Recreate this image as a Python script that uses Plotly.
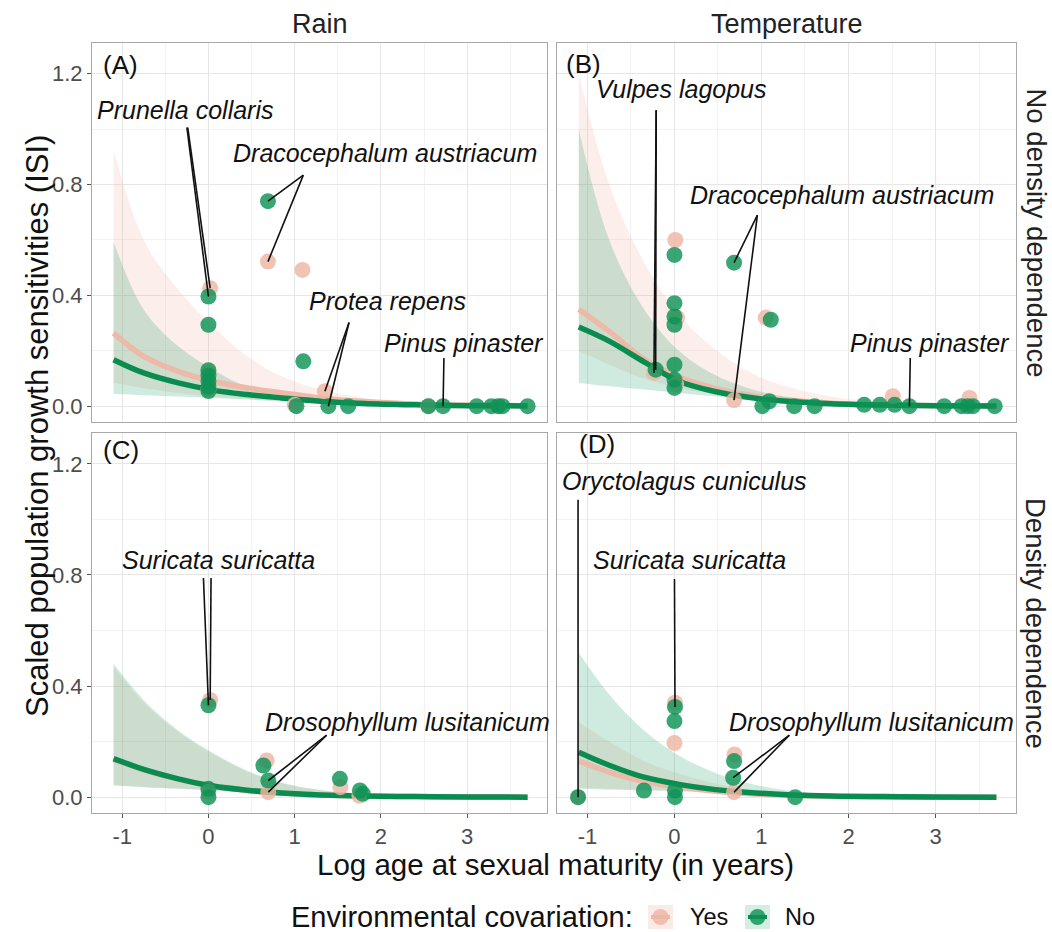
import plotly.graph_objects as go

W, H = 1052, 932
FONT = "Liberation Sans, Arial, Helvetica, sans-serif"

# ---------------- data ----------------
PANELS = ["A", "B", "C", "D"]
COL_TITLES = ["Rain", "Temperature"]
ROW_TITLES = ["No density dependence", "Density dependence"]
LEGEND_TITLE = "Environmental covariation:"
SERIES_NAMES = ["Yes", "No"]

X_TICKS = [-1, 0, 1, 2, 3]
X_TICK_LABELS = ["-1", "0", "1", "2", "3"]
Y_TICKS = [0.0, 0.4, 0.8, 1.2]
Y_TICK_LABELS = ["0.0", "0.4", "0.8", "1.2"]

# observed points: "No" (green) and "Yes" (pink) environmental covariation
A_no_x = [0, 0, 0, 0, 0, 0, 0, 0.69, 1.10, 1.02, 1.39, 1.62, 2.55, 2.72, 3.11, 3.28, 3.36, 3.41, 3.70]
A_no_y = [0.396, 0.294, 0.13, 0.11, 0.09, 0.07, 0.055, 0.74, 0.162, 0.0, 0.0, 0.0, 0.0, 0.0, 0.0, 0.0, 0.0, 0.0, 0.0]
A_yes_x = [0.02, 0.69, 1.09, 1.35, 0.0, 0.0, 1.0, 2.55, 3.36]
A_yes_y = [0.426, 0.522, 0.492, 0.054, 0.12, 0.06, 0.005, 0.0, 0.0]

B_no_x = [0, 0, 0, 0, 0, 0, 0, -0.216, 0.685, 1.107, 1.01, 1.09, 1.376, 1.61, 2.18, 2.36, 2.53, 2.70, 3.10, 3.30, 3.37, 3.43, 3.68]
B_no_y = [0.546, 0.372, 0.324, 0.294, 0.15, 0.096, 0.066, 0.132, 0.518, 0.312, 0.0, 0.018, 0.0, 0.0, 0.005, 0.005, 0.005, 0.0, 0.0, 0.0, 0.0, 0.0, 0.0]
B_yes_x = [0.01, -0.236, 0.685, 1.05, 2.51, 3.39, 0.03, 0.02]
B_yes_y = [0.60, 0.12, 0.022, 0.32, 0.036, 0.03, 0.32, 0.08]

C_no_x = [0, 0, 0, 0.637, 0.694, 1.524, 1.756, 1.79]
C_no_y = [0.331, 0.03, 0.0, 0.114, 0.06, 0.066, 0.024, 0.012]
C_yes_x = [0.02, 0.675, 0.694, 1.53, 1.75, 0.0]
C_yes_y = [0.35, 0.132, 0.018, 0.036, 0.005, 0.02]

D_no_x = [-1.108, -0.351, 0.006, 0.0, 0.006, 0.006, 0.685, 0.674, 1.387]
D_no_y = [0.0, 0.024, 0.325, 0.274, 0.024, 0.0, 0.13, 0.07, 0.0]
D_yes_x = [0.0, 0.006, 0.69, 0.685, -1.108]
D_yes_y = [0.195, 0.34, 0.154, 0.018, 0.0]

# fitted curves (at these x positions)
CURVE_X = [-1.1, -0.75, -0.35, 0.05, 0.45, 0.85, 1.3, 1.8, 2.4, 3.0, 3.7]

A_no_fit = [0.168, 0.12, 0.084, 0.058, 0.042, 0.03, 0.018, 0.01, 0.005, 0.002, 0.001]
A_no_lo = [0.045, 0.04, 0.035, 0.03, 0.024, 0.018, 0.012, 0.007, 0.003, 0.001, 0.0]
A_no_hi = [0.594, 0.348, 0.216, 0.132, 0.07, 0.04, 0.02, 0.01, 0.005, 0.003, 0.002]
A_yes_fit = [0.264, 0.18, 0.126, 0.09, 0.066, 0.048, 0.03, 0.017, 0.008, 0.004, 0.002]
A_yes_lo = [0.085, 0.065, 0.048, 0.035, 0.026, 0.018, 0.011, 0.006, 0.003, 0.001, 0.0]
A_yes_hi = [0.924, 0.60, 0.42, 0.288, 0.18, 0.108, 0.06, 0.03, 0.012, 0.005, 0.002]

B_no_fit = [0.286, 0.235, 0.16, 0.09, 0.054, 0.032, 0.018, 0.009, 0.004, 0.002, 0.001]
B_no_lo = [0.084, 0.072, 0.06, 0.048, 0.036, 0.026, 0.016, 0.009, 0.004, 0.002, 0.001]
B_no_hi = [1.0, 0.6, 0.35, 0.2, 0.115, 0.065, 0.033, 0.015, 0.006, 0.003, 0.001]
B_yes_fit = [0.35, 0.27, 0.17, 0.105, 0.066, 0.04, 0.022, 0.011, 0.005, 0.002, 0.001]
B_yes_lo = [0.2, 0.15, 0.1, 0.065, 0.045, 0.03, 0.018, 0.009, 0.004, 0.002, 0.001]
B_yes_hi = [1.2, 0.8, 0.52, 0.33, 0.21, 0.125, 0.07, 0.035, 0.014, 0.006, 0.002]

C_no_fit = [0.139, 0.1, 0.066, 0.04, 0.025, 0.015, 0.008, 0.004, 0.002, 0.001, 0.0]
C_no_lo = [0.042, 0.036, 0.03, 0.024, 0.017, 0.011, 0.006, 0.003, 0.001, 0.0, 0.0]
C_no_hi = [0.48, 0.35, 0.24, 0.16, 0.095, 0.052, 0.026, 0.012, 0.005, 0.002, 0.001]
C_yes_fit = [0.136, 0.098, 0.064, 0.039, 0.024, 0.014, 0.008, 0.004, 0.002, 0.001, 0.0]
C_yes_lo = [0.044, 0.037, 0.031, 0.024, 0.017, 0.011, 0.006, 0.003, 0.001, 0.0, 0.0]
C_yes_hi = [0.47, 0.34, 0.235, 0.155, 0.092, 0.05, 0.025, 0.012, 0.005, 0.002, 0.001]

D_no_fit = [0.162, 0.115, 0.072, 0.046, 0.028, 0.017, 0.009, 0.004, 0.002, 0.001, 0.0]
D_no_lo = [0.03, 0.027, 0.025, 0.022, 0.016, 0.01, 0.006, 0.003, 0.001, 0.0, 0.0]
D_no_hi = [0.52, 0.37, 0.24, 0.15, 0.09, 0.05, 0.024, 0.011, 0.004, 0.002, 0.001]
D_yes_fit = [0.13, 0.09, 0.056, 0.037, 0.022, 0.013, 0.007, 0.003, 0.001, 0.0, 0.0]
D_yes_lo = [0.035, 0.03, 0.025, 0.02, 0.014, 0.009, 0.005, 0.002, 0.001, 0.0, 0.0]
D_yes_hi = [0.27, 0.2, 0.13, 0.085, 0.05, 0.028, 0.014, 0.006, 0.002, 0.001, 0.0]

# species labels: panel, text, label centre (x, y), segments (start x, start y, series, point index)
SPECIES_LABELS = [
    ("A", "Prunella collaris", -0.27, 1.068, [(-0.25, 1.006, "no", 0), (-0.24, 1.006, "yes", 0)]),
    ("A", "Dracocephalum austriacum", 2.05, 0.913, [(1.10, 0.834, "no", 7), (1.10, 0.834, "yes", 1)]),
    ("A", "Protea repens", 2.07, 0.378, [(1.63, 0.302, "yes", 3), (1.63, 0.302, "no", 10)]),
    ("A", "Pinus pinaster", 2.96, 0.229, [(2.73, 0.174, "no", 13)]),
    ("B", "Vulpes lagopus", 0.08, 1.146, [(-0.21, 1.068, "no", 7), (-0.21, 1.068, "yes", 1)]),
    ("B", "Dracocephalum austriacum", 1.93, 0.762, [(0.953, 0.69, "no", 8), (0.953, 0.69, "yes", 2)]),
    ("B", "Pinus pinaster", 2.94, 0.228, [(2.71, 0.174, "no", 17)]),
    ("C", "Suricata suricatta", 0.116, 0.855, [(-0.058, 0.789, "no", 0), (0.03, 0.789, "yes", 0)]),
    ("C", "Drosophyllum lusitanicum", 2.31, 0.271, [(1.37, 0.223, "no", 4), (1.37, 0.223, "yes", 2)]),
    ("D", "Oryctolagus cuniculus", 0.12, 1.137, [(-1.108, 1.071, "no", 0)]),
    ("D", "Suricata suricatta", 0.167, 0.855, [(0.0, 0.785, "no", 2)]),
    ("D", "Drosophyllum lusitanicum", 2.27, 0.271, [(1.32, 0.223, "no", 7), (1.32, 0.223, "yes", 3)]),
]
# panel tag positions (data coords, left-anchored)
PANEL_TAGS = {"A": (-1.25, 1.23), "B": (-1.27, 1.236), "C": (-1.25, 1.25), "D": (-1.12, 1.27)}

DATA = {
    "A": dict(no=(A_no_x, A_no_y), yes=(A_yes_x, A_yes_y),
              fit_no=(A_no_fit, A_no_lo, A_no_hi), fit_yes=(A_yes_fit, A_yes_lo, A_yes_hi)),
    "B": dict(no=(B_no_x, B_no_y), yes=(B_yes_x, B_yes_y),
              fit_no=(B_no_fit, B_no_lo, B_no_hi), fit_yes=(B_yes_fit, B_yes_lo, B_yes_hi)),
    "C": dict(no=(C_no_x, C_no_y), yes=(C_yes_x, C_yes_y),
              fit_no=(C_no_fit, C_no_lo, C_no_hi), fit_yes=(C_yes_fit, C_yes_lo, C_yes_hi)),
    "D": dict(no=(D_no_x, D_no_y), yes=(D_yes_x, D_yes_y),
              fit_no=(D_no_fit, D_no_lo, D_no_hi), fit_yes=(D_yes_fit, D_yes_lo, D_yes_hi)),
}

# ---------------- styling ----------------
GREEN_PT = "rgba(14,146,86,0.82)"
PINK_PT = "rgba(238,182,164,0.82)"
GREEN_LINE = "#0A8C50"
PINK_LINE = "#EDB9A8"
GREEN_RIB = "rgba(0,150,85,0.19)"
PINK_RIB = "rgba(240,170,150,0.2)"
GREEN_KEY_BG = "#D5EEE2"
PINK_KEY_BG = "#FBEAE5"

# panel pixel boxes (left, right, top, bottom)
BOX = {"A": (92, 547, 43, 422), "B": (557, 1016, 43, 422),
       "C": (92, 547, 433, 813), "D": (557, 1016, 433, 813)}
XR = [-1.35, 3.925]
YR = [-0.057, 1.311]


def px_(v):
    return v / W


def py_(v):
    return 1 - v / H


fig = go.Figure()
layout = dict(width=W, height=H, margin=dict(l=0, r=0, t=0, b=0),
              paper_bgcolor="white", plot_bgcolor="white", showlegend=False,
              font=dict(family=FONT, color="#1A1A1A"))
annotations = []
shapes = []

for i, p in enumerate(PANELS):
    n = "" if i == 0 else str(i + 1)
    xa, ya = "x" + n, "y" + n
    l, r, t, b = BOX[p]
    bottom_row = p in ("C", "D")
    left_col = p in ("A", "C")
    layout["xaxis" + n] = dict(
        domain=[px_(l), px_(r)], range=XR, anchor=ya,
        tickvals=X_TICKS, ticktext=X_TICK_LABELS,
        showticklabels=bottom_row, ticks="outside" if bottom_row else "",
        ticklen=4, tickcolor="#555", tickfont=dict(size=22, color="#4D4D4D"),
        showgrid=True, gridcolor="#E6E6E6", gridwidth=1,
        minor=dict(dtick=0.5, tick0=0.5, showgrid=True, gridcolor="#F2F2F2", gridwidth=1, ticks=""),
        zeroline=False, showline=True, mirror=True, linecolor="#A8A8A8", linewidth=1)
    layout["yaxis" + n] = dict(
        domain=[py_(b), py_(t)], range=YR, anchor=xa,
        tickvals=Y_TICKS, ticktext=Y_TICK_LABELS,
        showticklabels=left_col, ticks="outside" if left_col else "",
        ticklen=4, tickcolor="#555", tickfont=dict(size=22, color="#4D4D4D"),
        showgrid=True, gridcolor="#E6E6E6", gridwidth=1,
        minor=dict(dtick=0.4, tick0=0.2, showgrid=True, gridcolor="#F2F2F2", gridwidth=1, ticks=""),
        zeroline=False, showline=True, mirror=True, linecolor="#A8A8A8", linewidth=1)

    d = DATA[p]
    # ribbons
    for key, col in (("fit_yes", PINK_RIB), ("fit_no", GREEN_RIB)):
        fit, lo, hi = d[key]
        fig.add_trace(go.Scatter(x=CURVE_X, y=lo, mode="lines", line=dict(width=0, shape="spline"),
                                 xaxis=xa, yaxis=ya, hoverinfo="skip"))
        fig.add_trace(go.Scatter(x=CURVE_X, y=hi, mode="lines", line=dict(width=0, shape="spline"),
                                 fill="tonexty", fillcolor=col,
                                 xaxis=xa, yaxis=ya, hoverinfo="skip"))
    # fitted lines
    for key, col in (("fit_yes", PINK_LINE), ("fit_no", GREEN_LINE)):
        fit = d[key][0]
        fig.add_trace(go.Scatter(x=CURVE_X, y=fit, mode="lines",
                                 line=dict(color=col, width=5.5, shape="spline"),
                                 xaxis=xa, yaxis=ya, hoverinfo="skip"))
    # points
    for key, col, name in (("yes", PINK_PT, SERIES_NAMES[0]), ("no", GREEN_PT, SERIES_NAMES[1])):
        px, py = d[key]
        fig.add_trace(go.Scatter(x=px, y=py, mode="markers", name=name,
                                 marker=dict(color=col, size=16, line=dict(width=0)),
                                 xaxis=xa, yaxis=ya))
    # species label segments and text
    for (lp, text, tx, ty, segs) in SPECIES_LABELS:
        if lp != p:
            continue
        for (sx, sy, ser, idx) in segs:
            px, py = d[ser]
            fig.add_trace(go.Scatter(x=[sx, px[idx]], y=[sy, py[idx]], mode="lines",
                                     line=dict(color="#111111", width=1.6),
                                     xaxis=xa, yaxis=ya, hoverinfo="skip"))
        annotations.append(dict(x=tx, y=ty, xref=xa, yref=ya, text="<i>" + text + "</i>",
                                showarrow=False, font=dict(size=25, color="#111111"),
                                xanchor="center", yanchor="middle"))
    tx, ty = PANEL_TAGS[p]
    annotations.append(dict(x=tx, y=ty, xref=xa, yref=ya, text="(" + p + ")", showarrow=False,
                            font=dict(size=26, color="#111111"), xanchor="left", yanchor="middle"))

# strip titles
annotations.append(dict(x=px_((92 + 547) / 2), y=py_(24), xref="paper", yref="paper", text=COL_TITLES[0],
                        showarrow=False, font=dict(size=27, color="#222"), xanchor="center", yanchor="middle"))
annotations.append(dict(x=px_((557 + 1016) / 2), y=py_(24), xref="paper", yref="paper", text=COL_TITLES[1],
                        showarrow=False, font=dict(size=27, color="#222"), xanchor="center", yanchor="middle"))
annotations.append(dict(x=px_(1036), y=py_((43 + 422) / 2), xref="paper", yref="paper", text=ROW_TITLES[0],
                        textangle=90, showarrow=False, font=dict(size=27.5, color="#222"),
                        xanchor="center", yanchor="middle"))
annotations.append(dict(x=px_(1036), y=py_((433 + 813) / 2), xref="paper", yref="paper", text=ROW_TITLES[1],
                        textangle=90, showarrow=False, font=dict(size=27.5, color="#222"),
                        xanchor="center", yanchor="middle"))
# axis titles
annotations.append(dict(x=px_(37), y=py_(426), xref="paper", yref="paper",
                        text="Scaled population growth sensitivities (ISI)", textangle=-90, showarrow=False,
                        font=dict(size=31, color="#111"), xanchor="center", yanchor="middle"))
annotations.append(dict(x=px_(555), y=py_(864), xref="paper", yref="paper",
                        text="Log age at sexual maturity (in years)", showarrow=False,
                        font=dict(size=29.5, color="#111"), xanchor="center", yanchor="middle"))

# legend (bottom, horizontal): title, then key + label for each series
LEG_Y = 917
annotations.append(dict(x=px_(289), y=py_(LEG_Y), xref="paper", yref="paper", text=LEGEND_TITLE,
                        showarrow=False, font=dict(size=29, color="#111"), xanchor="left", yanchor="middle"))
for (kx, bg, pt, ln, lab_x, lab) in ((660.5, PINK_KEY_BG, PINK_PT, PINK_LINE, 688, SERIES_NAMES[0]),
                                     (757.5, GREEN_KEY_BG, GREEN_PT, GREEN_LINE, 783, SERIES_NAMES[1])):
    shapes.append(dict(type="rect", xref="paper", yref="paper", x0=px_(kx - 12.5), x1=px_(kx + 12.5),
                       y0=py_(LEG_Y + 12), y1=py_(LEG_Y - 12), fillcolor=bg, line=dict(width=0), layer="above"))
    shapes.append(dict(type="line", xref="paper", yref="paper", x0=px_(kx - 9.5), x1=px_(kx + 9.5),
                       y0=py_(LEG_Y), y1=py_(LEG_Y), line=dict(color=ln, width=4), layer="above"))
    shapes.append(dict(type="circle", xref="paper", yref="paper", x0=px_(kx - 8), x1=px_(kx + 8),
                       y0=py_(LEG_Y + 8), y1=py_(LEG_Y - 8), fillcolor=pt, line=dict(width=0), layer="above"))
    annotations.append(dict(x=px_(lab_x), y=py_(LEG_Y), xref="paper", yref="paper", text=lab,
                            showarrow=False, font=dict(size=23.5, color="#111"), xanchor="left", yanchor="middle"))

layout["annotations"] = annotations
layout["shapes"] = shapes
fig.update_layout(**layout)
fig.write_html("out.html")
